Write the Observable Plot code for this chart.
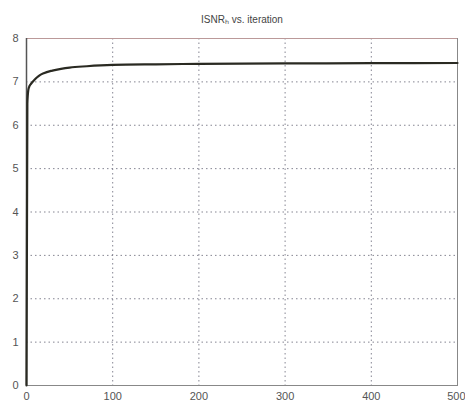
<!DOCTYPE html>
<html><head><meta charset="utf-8">
<script src="https://cdn.jsdelivr.net/npm/d3@7"></script>
<script src="https://cdn.jsdelivr.net/npm/@observablehq/plot@0.6"></script>
<style>body{margin:0;background:#fff;} svg{display:block;}</style>
</head><body><div id="chart"></div>
<script>
const titleText = "ISNR\u2095 vs. iteration";
const iterations = [0, 1, 2, 3, 5, 8, 12, 16, 20, 30, 40, 50, 70, 100, 150, 200, 300, 400, 500];
const isnr = [0, 6.5, 6.8, 6.88, 6.95, 7.02, 7.1, 7.16, 7.2, 7.26, 7.3, 7.33, 7.36, 7.39, 7.405, 7.415, 7.425, 7.43, 7.435];
const xTicks = [0, 100, 200, 300, 400, 500];
const yTicks = [0, 1, 2, 3, 4, 5, 6, 7, 8];
const data = iterations.map((it, i) => ({it, v: isnr[i]}));

const chart = Plot.plot({
  width: 465, height: 408,
  marginLeft: 26, marginRight: 8, marginTop: 38, marginBottom: 23,
  style: {fontFamily: "Liberation Sans, Arial, sans-serif", fontSize: "11px", color: "#555", background: "#fff"},
  x: {domain: [0, 500], label: null},
  y: {domain: [0, 8], label: null},
  marks: [
    Plot.gridX(xTicks.slice(1, -1), {stroke: "#667", strokeOpacity: 0.8, strokeDasharray: "1.5,3"}),
    Plot.gridY(yTicks.slice(1, -1), {stroke: "#667", strokeOpacity: 0.8, strokeDasharray: "1.5,3"}),
    Plot.frame({stroke: "#888"}),
    Plot.ruleY([8], {stroke: "#b99", strokeWidth: 1}),
    Plot.ruleX([0], {stroke: "#555", strokeWidth: 1.5}),
    Plot.axisX(xTicks.slice(0, -1), {tickSize: 0, tickPadding: 7, fill: "#555"}),
    Plot.axisX([xTicks[xTicks.length - 1]], {tickSize: 0, tickPadding: 7, fill: "#555", textAnchor: "end", dx: 8}),
    Plot.axisY(yTicks, {tickSize: 0, tickPadding: 8, fill: "#555"}),
    Plot.line(data, {x: "it", y: "v", stroke: "#2a2a22", strokeWidth: 2.2, curve: "monotone-x"}),
    Plot.text([titleText], {frameAnchor: "top", dy: -23, fill: "#444", fontSize: 10})
  ]
});
document.getElementById("chart").appendChild(chart);
</script></body></html>
